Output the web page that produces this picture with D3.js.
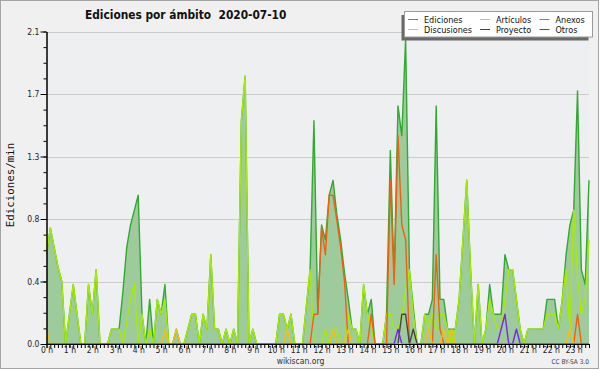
<!DOCTYPE html>
<html>
<head>
<meta charset="utf-8">
<script src="https://cdn.jsdelivr.net/npm/d3@7"></script>
<style>
  body { margin: 0; background: #fff; }
  svg text { font-family: "DejaVu Sans Condensed", "DejaVu Sans", sans-serif; }
</style>
</head>
<body>
<svg id="chart" width="600" height="370"></svg>
<script>
// horas del eje x (una etiqueta cada 6 intervalos de 10 min)
var hours = ["0 h", "1 h", "2 h", "3 h", "4 h", "5 h", "6 h", "7 h", "8 h", "9 h", "10 h", "11 h",
             "12 h", "13 h", "14 h", "15 h", "16 h", "17 h", "18 h", "19 h", "20 h", "21 h", "22 h", "23 h"];
var yTickValues = [0, 0.42, 0.84, 1.26, 1.68, 2.1];

// ediciones/min, intervalos de 10 minutos
var ediciones = [
  .6, .78, .65, .52, .42, 0, .2, .4, .2, 0, 0, .4,
  .2, .5, 0, 0, 0, .1, .1, .1, .35, .65, .8, .9,
  1.0, .2, 0, .3, 0, .3, .2, .4, 0, 0, .1, 0,
  0, .1, .2, .2, 0, .2, .1, .6, .1, .1, 0, .1,
  0, .1, 0, 1.5, 1.8, 0, .1, 0, 0, 0, 0, 0,
  0, .2, .2, .1, .2, 0, 0, 0, .25, .5, 1.5, .2,
  .8, .7, 1.0, 1.1, .87, .7, .48, .3, .1, .1, 0, .4,
  .2, .3, 0, 0, 0, .2, 1.3, .45, 1.6, 1.4, 2.05, .5,
  .25, 0, 0, .2, .2, .3, 1.6, .3, .3, .1, .1, .1,
  .3, .7, 1.1, .5, 0, .4, 0, .1, .4, .2, .2, .2,
  .6, .5, .5, .3, .1, 0, .1, .1, .1, .1, .1, .3,
  .3, .3, .1, .3, .6, .8, .9, 1.7, .5, .4, 1.1
];
var articulos = [
  .6, .78, .65, .52, .42, 0, .2, .4, .2, 0, 0, .4,
  .2, .5, 0, 0, 0, .1, .1, .1, 0, .15, .3, .4,
  0, .2, 0, .1, 0, .3, .2, .3, 0, 0, 0, 0,
  0, .1, .2, .2, 0, .2, .1, .6, .1, .1, 0, .1,
  0, .1, 0, 1.5, 1.8, 0, .1, 0, 0, 0, 0, 0,
  0, .2, .2, .1, .2, 0, 0, 0, .25, .5, 0, 0,
  0, .1, 0, .1, .1, 0, 0, .2, .1, .1, 0, .4,
  .2, .1, 0, 0, 0, .2, .2, .1, .1, .2, .35, .5,
  .2, 0, 0, .2, .1, .2, .1, .2, .2, .1, 0, .1,
  .3, .7, 1.1, .5, 0, .4, 0, .1, .3, .2, .1, .1,
  .3, .5, .5, .3, .1, 0, .1, .1, .1, .1, .1, .2,
  .2, .2, .1, .3, .5, .1, .9, .45, .2, .3, .7
];
var anexos = [
  0, 0, 0, 0, 0, 0, 0, 0, 0, 0, 0, 0,
  0, 0, 0, 0, 0, 0, 0, 0, 0, 0, 0, 0,
  0, 0, 0, 0, 0, 0, 0, 0, 0, 0, 0, 0,
  0, 0, 0, 0, 0, 0, 0, 0, 0, 0, 0, 0,
  0, 0, 0, 0, 0, 0, 0, 0, 0, 0, 0, 0,
  0, 0, 0, 0, 0, 0, 0, 0, 0, 0, .2, .2,
  .78, .6, 1.0, 1.0, .83, .65, .42, 0, 0, 0, 0, 0,
  0, .2, 0, 0, 0, 0, 1.1, .4, 1.4, .8, .7, 0,
  0, 0, 0, 0, 0, 0, .6, .1, 0, 0, 0, 0,
  0, 0, 0, 0, 0, 0, 0, 0, 0, 0, 0, 0,
  0, 0, 0, 0, 0, 0, 0, 0, 0, 0, 0, 0,
  0, 0, 0, 0, 0, 0, 0, .2, 0, 0, 0
];
var discusiones = [
  .1, 0, 0, 0, 0, 0, 0, 0, 0, 0, 0, 0,
  0, 0, 0, 0, 0, 0, 0, 0, 0, 0, 0, 0,
  0, 0, 0, 0, 0, 0, 0, .1, 0, 0, .1, 0,
  0, 0, 0, 0, 0, 0, 0, 0, 0, 0, 0, 0,
  0, 0, 0, 0, 0, 0, 0, 0, 0, 0, 0, 0,
  0, 0, 0, .1, 0, 0, 0, 0, 0, 0, 0, 0,
  0, 0, 0, .1, 0, 0, 0, .1, 0, 0, 0, 0,
  0, 0, 0, 0, 0, 0, 0, 0, 0, 0, 0, 0,
  0, 0, 0, 0, .1, 0, 0, 0, .1, 0, .1, 0,
  0, 0, 0, 0, 0, 0, 0, 0, 0, 0, 0, 0,
  0, 0, 0, 0, 0, 0, 0, 0, 0, 0, 0, 0,
  0, 0, 0, 0, 0, .1, 0, 0, 0, 0, 0
];
var proyecto = [
  0, 0, 0, 0, 0, 0, 0, 0, 0, 0, 0, 0,
  0, 0, 0, 0, 0, 0, 0, 0, 0, 0, 0, 0,
  0, 0, 0, 0, 0, 0, 0, 0, 0, 0, 0, 0,
  0, 0, 0, 0, 0, 0, 0, 0, 0, 0, 0, 0,
  0, 0, 0, 0, 0, 0, 0, 0, 0, 0, 0, 0,
  0, 0, 0, 0, 0, 0, 0, 0, 0, 0, 0, 0,
  0, 0, 0, 0, 0, 0, 0, 0, 0, 0, 0, 0,
  0, 0, 0, 0, 0, 0, 0, 0, 0, .2, .2, 0,
  .1, 0, 0, 0, 0, 0, 0, 0, 0, 0, 0, 0,
  0, 0, 0, 0, 0, 0, 0, 0, 0, 0, 0, 0,
  0, 0, 0, 0, 0, 0, 0, 0, 0, 0, 0, 0,
  0, 0, 0, 0, 0, 0, 0, 0, 0, 0, 0
];
var otros = [
  0, 0, 0, 0, 0, 0, 0, 0, 0, 0, 0, 0,
  0, 0, 0, 0, 0, 0, 0, 0, 0, 0, 0, 0,
  0, 0, 0, 0, 0, 0, 0, 0, 0, 0, 0, 0,
  0, 0, 0, 0, 0, 0, 0, 0, 0, 0, 0, 0,
  0, 0, 0, 0, 0, 0, 0, 0, 0, 0, 0, 0,
  0, 0, 0, 0, 0, 0, 0, 0, 0, 0, 0, 0,
  0, 0, 0, 0, 0, 0, 0, 0, 0, 0, 0, 0,
  0, 0, 0, 0, 0, 0, 0, 0, .1, 0, 0, 0,
  0, 0, 0, 0, 0, 0, 0, 0, 0, 0, 0, 0,
  0, 0, 0, 0, 0, 0, 0, 0, 0, 0, 0, .1,
  .2, 0, 0, .1, 0, 0, 0, 0, 0, 0, 0, 0,
  0, 0, 0, 0, 0, 0, 0, 0, 0, 0, 0
];

var series = [
  { name: "Ediciones",   values: ediciones,   color: "#33a833" },
  { name: "Artículos",   values: articulos,   color: "#a6ec00" },
  { name: "Anexos",      values: anexos,      color: "#f2600f" },
  { name: "Discusiones", values: discusiones, color: "#f2c20c" },
  { name: "Proyecto",    values: proyecto,    color: "#444444" },
  { name: "Otros",       values: otros,       color: "#7a22ee" }
];

var svg = d3.select("#chart");
var x = d3.scaleLinear().domain([0, ediciones.length - 1]).range([46.5, 589]);
var y = d3.scaleLinear().domain([0, 2.1]).range([344, 31.5]);

// fondo y marco
svg.append("rect")
    .attr("x", 0.5).attr("y", 0.5)
    .attr("width", 598).attr("height", 368)
    .attr("fill", "#f0f0f0")
    .attr("stroke", "#a4a4a4");
svg.append("rect")
    .attr("x", x.range()[0]).attr("y", y(2.1))
    .attr("width", x.range()[1] - x.range()[0])
    .attr("height", y(0) - y(2.1))
    .attr("fill", "#eeeff1");

// rejilla
svg.append("g")
    .selectAll("line")
    .data(yTickValues.slice(1))
    .enter().append("line")
    .attr("x1", x.range()[0]).attr("x2", x.range()[1])
    .attr("y1", function (d) { return Math.round(y(d)) + 0.5; })
    .attr("y2", function (d) { return Math.round(y(d)) + 0.5; })
    .attr("stroke", "#cbcbcb");

svg.append("clipPath").attr("id", "clip")
    .append("rect")
    .attr("x", x.range()[0]).attr("y", 0)
    .attr("width", x.range()[1] - x.range()[0] + 2)
    .attr("height", y(0) - 0.6);

var plot = svg.append("g").attr("clip-path", "url(#clip)");

var area = d3.area()
    .x(function (d, i) { return x(i); })
    .y0(y(0))
    .y1(function (d) { return y(d); });
var line = d3.line()
    .x(function (d, i) { return x(i); })
    .y(function (d) { return y(d); });

plot.append("path")
    .datum(ediciones)
    .attr("d", area)
    .attr("fill", "#9ecb9c");

plot.selectAll("path.serie")
    .data(series)
    .enter().append("path")
    .attr("class", "serie")
    .attr("d", function (s) { return line(s.values); })
    .attr("fill", "none")
    .attr("stroke", function (s) { return s.color; })
    .attr("stroke-width", 1.4)
    .attr("stroke-linejoin", "round");

// eje y
var yMinor = d3.axisLeft(y)
    .tickValues(d3.range(0, 21).map(function (k) { return k * 0.105; }))
    .tickSize(3).tickSizeOuter(0).tickFormat("");
svg.append("g").attr("transform", "translate(" + x.range()[0] + ",0)").call(yMinor);

var yAxis = d3.axisLeft(y)
    .tickValues(yTickValues)
    .tickSize(6).tickSizeOuter(0).tickPadding(1)
    .tickFormat(d3.format(".1f"));
svg.append("g").attr("class", "yaxis")
    .attr("transform", "translate(" + x.range()[0] + ",0)").call(yAxis);

// eje x
var xMinor = d3.axisBottom(x)
    .tickValues(d3.range(0, ediciones.length))
    .tickSize(4).tickSizeOuter(0).tickFormat("");
svg.append("g").attr("transform", "translate(0," + y(0) + ")").call(xMinor);

var xAxis = d3.axisBottom(x)
    .tickValues(hours.map(function (h, k) { return k * 6; }))
    .tickSize(4).tickSizeOuter(0)
    .tickFormat(function (d) { return hours[d / 6]; });
svg.append("g").attr("class", "xaxis")
    .attr("transform", "translate(0," + y(0) + ")").call(xAxis);
svg.selectAll(".xaxis text").attr("y", 3);

svg.selectAll(".tick line, .domain").attr("stroke", "#000");
svg.selectAll(".yaxis text, .xaxis text")
    .attr("fill", "#222")
    .style("font-size", "8.5px");

// títulos
svg.append("text")
    .attr("x", 85).attr("y", 19)
    .style("font-size", "11.8px")
    .style("font-weight", "bold")
    .attr("fill", "#111")
    .attr("xml:space", "preserve")
    .text("Ediciones por ámbito  2020-07-10");

svg.append("text")
    .attr("transform", "translate(13.5,185) rotate(-90)")
    .attr("text-anchor", "middle")
    .style("font-family", "'DejaVu Sans Mono', monospace")
    .style("font-size", "10.8px")
    .attr("fill", "#111")
    .text("Ediciones/min");

svg.append("text")
    .attr("x", 300.5).attr("y", 364)
    .attr("text-anchor", "middle")
    .style("font-size", "8.5px")
    .attr("fill", "#333")
    .text("wikiscan.org");

svg.append("text")
    .attr("x", 589).attr("y", 364)
    .attr("text-anchor", "end")
    .style("font-size", "6.5px")
    .attr("fill", "#444")
    .text("CC BY-SA 3.0");

// leyenda
var legend = svg.append("g");
legend.append("rect")
    .attr("x", 401.5).attr("y", 15)
    .attr("width", 187).attr("height", 25.5)
    .attr("fill", "#6a6a6a");
legend.append("rect")
    .attr("x", 404.5).attr("y", 11.5)
    .attr("width", 188).attr("height", 25.5)
    .attr("fill", "#ffffff")
    .attr("stroke", "#9a9a9a");

var colX = [408, 480, 539.5];
var rowY = [19.5, 29.5];
var item = legend.selectAll("g.item")
    .data(series)
    .enter().append("g")
    .attr("class", "item")
    .attr("transform", function (s, k) {
        return "translate(" + colX[k % 3] + "," + rowY[Math.floor(k / 3)] + ")";
    });
item.append("line")
    .attr("x1", 0).attr("x2", 10)
    .attr("stroke", function (s) { return s.color; })
    .attr("stroke-width", 1);
item.append("text")
    .attr("x", 16).attr("y", 3.2)
    .style("font-size", "9px")
    .attr("fill", "#111")
    .text(function (s) { return s.name; });
</script>
</body>
</html>
